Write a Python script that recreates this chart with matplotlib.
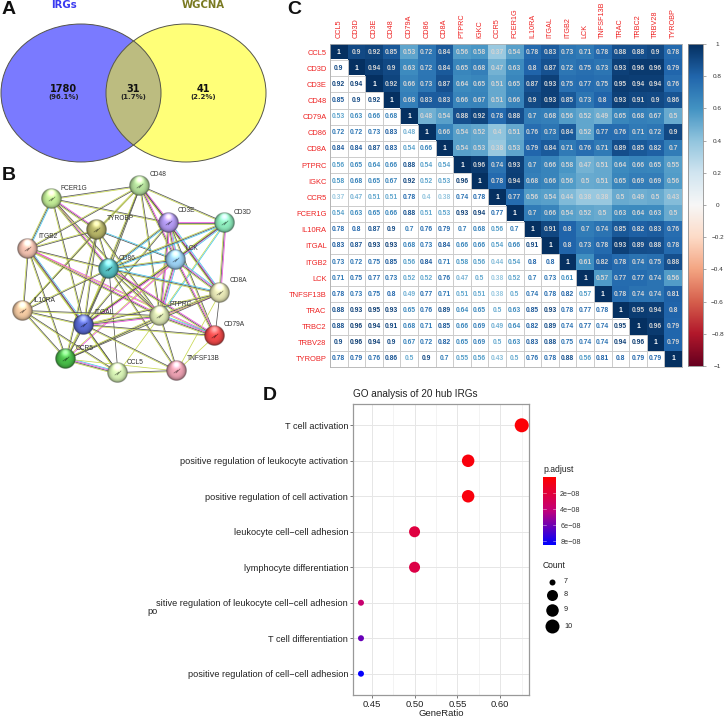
"""Four panel figure: Venn diagram, STRING network, correlation matrix, GO dot plot."""

from __future__ import annotations

import matplotlib

matplotlib.use("Agg")

import matplotlib.pyplot as plt
import numpy as np
from matplotlib.colors import LinearSegmentedColormap, Normalize, to_rgb
from matplotlib.patches import Ellipse, Rectangle

plt.rcParams["font.family"] = ["Liberation Sans", "DejaVu Sans"]

W, H = 725, 718

# panel A
VENN_COUNTS = [1780, 31, 41]
VENN_SHARES = ["(96.1%)", "(1.7%)", "(2.2%)"]
VENN_NAMES = ["IRGs", "WGCNA"]

# panel C
GENES = [
    "CCL5", "CD3D", "CD3E", "CD48", "CD79A", "CD86", "CD8A", "PTPRC", "IGKC", "CCR5",
    "FCER1G", "IL10RA", "ITGAL", "ITGB2", "LCK", "TNFSF13B", "TRAC", "TRBC2", "TRBV28", "TYROBP",
]
CORR = [
    [1, .9, .92, .85, .53, .72, .84, .56, .58, .37, .54, .78, .83, .73, .71, .78, .88, .88, .9, .78],
    [.9, 1, .94, .9, .63, .72, .84, .65, .68, .47, .63, .8, .87, .72, .75, .73, .93, .96, .96, .79],
    [.92, .94, 1, .92, .66, .73, .87, .64, .65, .51, .65, .87, .93, .75, .77, .75, .95, .94, .94, .76],
    [.85, .9, .92, 1, .68, .83, .83, .66, .67, .51, .66, .9, .93, .85, .73, .8, .93, .91, .9, .86],
    [.53, .63, .66, .68, 1, .48, .54, .88, .92, .78, .88, .7, .68, .56, .52, .49, .65, .68, .67, .5],
    [.72, .72, .73, .83, .48, 1, .66, .54, .52, .4, .51, .76, .73, .84, .52, .77, .76, .71, .72, .9],
    [.84, .84, .87, .83, .54, .66, 1, .54, .53, .38, .53, .79, .84, .71, .76, .71, .89, .85, .82, .7],
    [.56, .65, .64, .66, .88, .54, .54, 1, .96, .74, .93, .7, .66, .58, .47, .51, .64, .66, .65, .55],
    [.58, .68, .65, .67, .92, .52, .53, .96, 1, .78, .94, .68, .66, .56, .5, .51, .65, .69, .69, .56],
    [.37, .47, .51, .51, .78, .4, .38, .74, .78, 1, .77, .56, .54, .44, .38, .38, .5, .49, .5, .43],
    [.54, .63, .65, .66, .88, .51, .53, .93, .94, .77, 1, .7, .66, .54, .52, .5, .63, .64, .63, .5],
    [.78, .8, .87, .9, .7, .76, .79, .7, .68, .56, .7, 1, .91, .8, .7, .74, .85, .82, .83, .76],
    [.83, .87, .93, .93, .68, .73, .84, .66, .66, .54, .66, .91, 1, .8, .73, .78, .93, .89, .88, .78],
    [.73, .72, .75, .85, .56, .84, .71, .58, .56, .44, .54, .8, .8, 1, .61, .82, .78, .74, .75, .88],
    [.71, .75, .77, .73, .52, .52, .76, .47, .5, .38, .52, .7, .73, .61, 1, .57, .77, .77, .74, .56],
    [.78, .73, .75, .8, .49, .77, .71, .51, .51, .38, .5, .74, .78, .82, .57, 1, .78, .74, .74, .81],
    [.88, .93, .95, .93, .65, .76, .89, .64, .65, .5, .63, .85, .93, .78, .77, .78, 1, .95, .94, .8],
    [.88, .96, .94, .91, .68, .71, .85, .66, .69, .49, .64, .82, .89, .74, .77, .74, .95, 1, .96, .79],
    [.9, .96, .94, .9, .67, .72, .82, .65, .69, .5, .63, .83, .88, .75, .74, .74, .94, .96, 1, .79],
    [.78, .79, .76, .86, .5, .9, .7, .55, .56, .43, .5, .76, .78, .88, .56, .81, .8, .79, .79, 1],
]
CORR_TICKS = [1, 0.8, 0.6, 0.4, 0.2, 0, -0.2, -0.4, -0.6, -0.8, -1]

# panel D
GO_TERMS = [
    "T cell activation",
    "positive regulation of leukocyte activation",
    "positive regulation of cell activation",
    "leukocyte cell\u2212cell adhesion",
    "lymphocyte differentiation",
    "sitive regulation of leukocyte cell\u2212cell adhesion",
    "T cell differentiation",
    "positive regulation of cell\u2212cell adhesion",
]
GENE_RATIO = [0.625, 0.5625, 0.5625, 0.5, 0.5, 0.4375, 0.4375, 0.4375]
COUNTS = [10, 9, 9, 8, 8, 7, 7, 7]
P_ADJUST = [2e-9, 4e-9, 4e-9, 2.2e-8, 2.4e-8, 3.8e-8, 6.2e-8, 8.4e-8]
P_TICKS = [2e-8, 4e-8, 6e-8, 8e-8]
P_TICK_LABELS = ["2e\u221208", "4e\u221208", "6e\u221208", "8e\u221208"]
COUNT_LEVELS = [7, 8, 9, 10]

# panel B: y yellow-green, k dark, m magenta, c cyan
EDGES = [
    ("FCER1G", "CD48", "yk"), ("FCER1G", "CD3E", "yk"), ("FCER1G", "ITGB2", "ykc"),
    ("FCER1G", "TYROBP", "ykm"), ("FCER1G", "CD86", "ykm"), ("FCER1G", "PTPRC", "yk"),
    ("FCER1G", "ITGAL", "yk"), ("CD48", "TYROBP", "yk"), ("CD48", "ITGB2", "yk"),
    ("CD48", "CD86", "yk"), ("CD48", "CD3E", "ykm"), ("CD48", "CD3D", "yk"),
    ("CD48", "LCK", "ykm"), ("CD48", "ITGAL", "yk"), ("CD48", "PTPRC", "yk"),
    ("CD48", "IL10RA", "y"), ("CD48", "CD8A", "yk"), ("TYROBP", "ITGB2", "yk"),
    ("TYROBP", "CD86", "yk"), ("TYROBP", "LCK", "kc"), ("TYROBP", "ITGAL", "yk"),
    ("TYROBP", "CCR5", "yk"), ("TYROBP", "PTPRC", "yk"), ("TYROBP", "IL10RA", "yk"),
    ("CD3E", "CD3D", "ykm"), ("CD3E", "LCK", "ykmc"), ("CD3E", "CD86", "ykc"),
    ("CD3E", "CD8A", "ykmc"), ("CD3E", "ITGAL", "yk"), ("CD3E", "PTPRC", "ykm"),
    ("CD3E", "CD79A", "yk"), ("CD3D", "LCK", "ykmc"), ("CD3D", "CD86", "ykc"),
    ("CD3D", "CD8A", "ykm"), ("CD3D", "PTPRC", "yc"), ("CD3D", "ITGAL", "yk"),
    ("ITGB2", "CD86", "yk"), ("ITGB2", "IL10RA", "yk"), ("ITGB2", "ITGAL", "ykmc"),
    ("ITGB2", "PTPRC", "ykm"), ("ITGB2", "CD79A", "ym"), ("ITGB2", "CCR5", "yk"),
    ("ITGB2", "CCL5", "yk"), ("LCK", "CD86", "ykc"), ("LCK", "CD8A", "ykmc"),
    ("LCK", "PTPRC", "ykmc"), ("LCK", "ITGAL", "ykm"), ("LCK", "CD79A", "ykm"),
    ("LCK", "CCR5", "ym"), ("CD86", "CD8A", "ykc"), ("CD86", "PTPRC", "yk"),
    ("CD86", "ITGAL", "yk"), ("CD86", "IL10RA", "yk"), ("CD86", "CCR5", "yk"),
    ("CD86", "CCL5", "k"), ("CD86", "TNFSF13B", "yk"), ("CD86", "CD79A", "ykm"),
    ("CD8A", "PTPRC", "ykm"), ("CD8A", "CD79A", "k"), ("CD8A", "CCR5", "yk"),
    ("CD8A", "ITGAL", "yk"), ("CD8A", "TNFSF13B", "y"), ("IL10RA", "ITGAL", "yk"),
    ("IL10RA", "PTPRC", "yk"), ("IL10RA", "CCR5", "yk"), ("IL10RA", "CCL5", "yk"),
    ("PTPRC", "ITGAL", "ykm"), ("PTPRC", "CD79A", "ykmc"), ("PTPRC", "CCR5", "yk"),
    ("PTPRC", "TNFSF13B", "yk"), ("PTPRC", "CCL5", "y"), ("ITGAL", "CD79A", "yk"),
    ("ITGAL", "CCR5", "yk"), ("ITGAL", "CCL5", "yk"), ("ITGAL", "TNFSF13B", "yk"),
    ("CD79A", "TNFSF13B", "y"), ("CCR5", "CCL5", "ykmc"), ("CCR5", "TNFSF13B", "y"),
    ("CCL5", "TNFSF13B", "yk"),
]

# node layout in pixels: centre, colour, label corner
NODES = {
    "FCER1G": ((52, 199), "#b5dc8c", (61, 188)),
    "CD48": ((140, 186), "#a9d192", (150, 175)),
    "TYROBP": ((97, 230), "#aaa860", (107, 219)),
    "CD3E": ((169, 223), "#a58ee0", (178, 211)),
    "CD3D": ((225, 223), "#84dcb0", (234, 212)),
    "ITGB2": ((28, 249), "#e2b4a4", (38, 237)),
    "LCK": ((176, 260), "#92c4e4", (186, 248)),
    "CD86": ((109, 269), "#4eb2b4", (119, 258)),
    "CD8A": ((220, 293), "#d8d8aa", (230, 281)),
    "IL10RA": ((23, 311), "#e4bd98", (33, 300)),
    "PTPRC": ((160, 316), "#ced8a8", (170, 304)),
    "ITGAL": ((84, 325), "#5262c4", (94, 313)),
    "CD79A": ((215, 336), "#e04444", (224, 325)),
    "CCR5": ((66, 359), "#44b044", (76, 348)),
    "CCL5": ((118, 373), "#c8e2a8", (127, 362)),
    "TNFSF13B": ((177, 371), "#dc96a6", (187, 359)),
}
EDGE_COLORS = {"y": "#c8d850", "k": "#555555", "m": "#ec50dc", "c": "#48c8ec"}


def axes_px(fig, left, top, right, bottom, **kwargs):
    # axes from pixel edges, y measured from the top of the picture
    return fig.add_axes(
        [left / W, 1 - bottom / H, (right - left) / W, (bottom - top) / H], **kwargs
    )


def draw_venn(ax):
    left = Ellipse((81, 93), 160, 138, fc="#7a7aff", ec="none")
    right = Ellipse((186, 93), 160, 138, fc="#ffff78", ec="none")
    ax.add_patch(left)
    ax.add_patch(right)
    both = Ellipse((81, 93), 160, 138, fc="#bcbc80", ec="none")
    ax.add_patch(both)
    both.set_clip_path(Ellipse((186, 93), 160, 138, transform=ax.transData))
    for cx in (81, 186):
        ax.add_patch(Ellipse((cx, 93), 160, 138, fc="none", ec="#55554a", lw=0.7))
    for x, count, share in zip((64, 133, 203), VENN_COUNTS, VENN_SHARES):
        ax.text(x, 88.5, str(count), family="DejaVu Sans", weight="bold", fontsize=7,
                ha="center", va="center", color="#111111")
        ax.text(x, 96.5, share, family="DejaVu Sans", weight="bold", fontsize=5,
                ha="center", va="center", color="#222222")
    ax.text(64, 5, VENN_NAMES[0], family="DejaVu Sans", weight="bold", fontsize=7.3,
            ha="center", va="center", color="#3a3af0")
    ax.text(203, 5, VENN_NAMES[1], family="DejaVu Sans", weight="bold", fontsize=7.3,
            ha="center", va="center", color="#7a7a22")


def sphere(color, size=48):
    # shaded ball as an RGBA image, light comes from above
    base = np.array(to_rgb(color))
    yy, xx = np.mgrid[-1:1:size * 1j, -1:1:size * 1j]
    rr = np.hypot(xx, yy)
    shade = np.clip(1.08 - 0.55 * rr**4, 0, 1.2)[..., None]
    glow = np.exp(-((xx**2 + (yy + 0.62) ** 2) / 0.16))[..., None] * 0.45
    rim = np.clip((rr - 0.86) / 0.14, 0, 1)[..., None] * 0.35
    rgb = np.clip(base * shade * (1 - rim) + glow, 0, 1)
    alpha = np.clip((1 - rr) * size / 2, 0, 1)[..., None]
    return np.concatenate([rgb, alpha], axis=2)


def draw_network(ax):
    for a, b, kinds in EDGES:
        p, q = np.array(NODES[a][0], float), np.array(NODES[b][0], float)
        normal = np.array([q[1] - p[1], p[0] - q[0]]) / np.linalg.norm(q - p)
        for i, kind in enumerate(kinds):
            shift = normal * (i - (len(kinds) - 1) / 2) * 1.0
            ax.plot([p[0] + shift[0], q[0] + shift[0]], [p[1] + shift[1], q[1] + shift[1]],
                    color=EDGE_COLORS[kind], lw=0.55, solid_capstyle="butt", zorder=2)
    for name, (centre, color, corner) in NODES.items():
        r = 10.5
        ax.imshow(sphere(color), extent=(centre[0] - r, centre[0] + r, centre[1] + r, centre[1] - r),
                  zorder=3, interpolation="bilinear", aspect="auto")
        # small squiggle inside each ball, darker than the ball itself
        dark = tuple(c * 0.6 for c in to_rgb(color))
        ax.plot([centre[0] - 3, centre[0] + 1, centre[0] - 1, centre[0] + 3],
                [centre[1] + 2, centre[1] - 1, centre[1] + 2, centre[1] - 2],
                color=dark, lw=0.5, zorder=3.5)
        ax.text(corner[0], corner[1], name, fontsize=4.8, color="#333333", ha="left",
                va="center", zorder=4)


def draw_corr(fig):
    corr = np.array(CORR, float)
    n = len(GENES)
    norm = Normalize(-1, 1)
    cmap = plt.get_cmap("RdBu")
    ax = axes_px(fig, 330, 44, 682, 367)
    upper = np.ma.masked_where(np.tril(np.ones((n, n), bool), -1), corr)
    ax.imshow(upper, cmap=cmap, norm=norm, aspect="auto", interpolation="nearest")
    for i in range(n):
        for j in range(n):
            if j < i:
                ax.add_patch(Rectangle((j - 0.5, i - 0.5), 1, 1, fc="white", ec="#c8c8c8", lw=0.6))
                color = cmap(norm(corr[i, j]))
            elif i == j:
                color = "white"
            else:
                color = "#d4d4d4"
            ax.text(j, i, f"{corr[i, j]:g}", ha="center", va="center",
                    fontsize=4.9, weight="bold", color=color)
    ax.set_xticks(range(n), GENES, rotation=90, fontsize=5.2, color="#ee2222")
    ax.set_yticks(range(n), GENES, fontsize=5.4, color="#ee2222")
    ax.xaxis.tick_top()
    ax.tick_params(axis="x", length=0, pad=4)
    ax.tick_params(axis="y", length=0, pad=2.5)
    for spine in ax.spines.values():
        spine.set_color("#b0b0b0")
        spine.set_linewidth(0.6)

    cax = axes_px(fig, 688, 44, 703, 366)
    gradient = np.linspace(1, -1, 256)[:, None]
    cax.imshow(gradient, cmap=cmap, norm=norm, aspect="auto", extent=(0, 1, -1, 1))
    cax.set_xticks([])
    cax.yaxis.tick_right()
    cax.set_yticks(CORR_TICKS, [str(t).replace("-", "\u2212") for t in CORR_TICKS], fontsize=4.6,
                   color="#333333", ha="center")
    cax.tick_params(length=2, width=0.5, color="#888888", pad=8.5)
    for spine in cax.spines.values():
        spine.set_color("#909090")
        spine.set_linewidth(0.6)


def draw_dots(fig, page):
    ax = axes_px(fig, 353, 404, 529, 695)
    cmap = LinearSegmentedColormap.from_list("padj", ["#ff0000", "#c1007c", "#0000ff"])
    pnorm = Normalize(0, 8.5e-8)
    diameter = {7: 6.0, 8: 11.0, 9: 12.5, 10: 14.0}
    ypos = np.arange(len(GO_TERMS))[::-1] + 1
    sizes = [(diameter[c] * 0.72) ** 2 for c in COUNTS]
    ax.scatter(GENE_RATIO, ypos, s=sizes, c=P_ADJUST, cmap=cmap, norm=pnorm, linewidths=0, zorder=3)
    ax.set_xlim(0.4282, 0.6335)
    ax.set_ylim(0.4, 8.6)
    ax.set_xticks([0.45, 0.50, 0.55, 0.60], ["0.45", "0.50", "0.55", "0.60"], fontsize=6.8, color="#222222")
    ax.set_xticks([0.475, 0.525, 0.575, 0.625], minor=True)
    ax.set_yticks(ypos, GO_TERMS, fontsize=6.6, color="#222222")
    ax.grid(True, which="major", color="#e6e6e6", lw=0.7)
    ax.grid(True, which="minor", axis="x", color="#efefef", lw=0.5)
    ax.set_axisbelow(True)
    ax.tick_params(which="minor", length=0)
    ax.tick_params(which="major", length=2, width=0.5, color="#444444", pad=1.5)
    for spine in ax.spines.values():
        spine.set_color("#999999")
        spine.set_linewidth(0.9)
    page.text(441, 713, "GeneRatio", fontsize=6.8, ha="center", va="center", color="#222222")
    page.text(353, 394, "GO analysis of 20 hub IRGs", fontsize=7.2, ha="left", va="center", color="#222222")
    page.text(147, 612, "po", fontsize=6.6, ha="left", va="center", color="#222222")

    cax = axes_px(fig, 543, 477, 556, 545)
    grad = np.linspace(0, 8.5e-8, 128)[:, None]
    cax.imshow(grad, cmap=cmap, norm=pnorm, aspect="auto", extent=(0, 1, 8.5e-8, 0))
    cax.set_xticks([])
    cax.yaxis.tick_right()
    cax.set_yticks(P_TICKS, P_TICK_LABELS, fontsize=5.2, color="#333333")
    cax.tick_params(length=0, pad=3)
    for tick in P_TICKS:
        cax.plot([0, 0.2], [tick, tick], color="white", lw=0.4, alpha=0.7)
        cax.plot([0.8, 1], [tick, tick], color="white", lw=0.4, alpha=0.7)
    cax.set_xlim(0, 1)
    for spine in cax.spines.values():
        spine.set_visible(False)
    page.text(543, 469, "p.adjust", fontsize=6.2, ha="left", va="center", color="#222222")

    page.text(543, 566, "Count", fontsize=6.2, ha="left", va="center", color="#222222")
    for level, y in zip(COUNT_LEVELS, (581.7, 595, 609.7, 626)):
        page.scatter([551.7], [y], s=(diameter[level] * 0.72) ** 2, color="black", linewidths=0)
        page.text(564, y, str(level), fontsize=5.2, ha="left", va="center", color="#222222")


def main() -> None:
    fig = plt.figure(figsize=(W / 100, H / 100), dpi=100, facecolor="white")
    page = fig.add_axes([0, 0, 1, 1])
    page.axis("off")

    draw_venn(page)
    draw_network(page)
    page.set_xlim(0, W)
    page.set_ylim(H, 0)
    page.set_aspect("auto")

    for letter, x, y in (("A", 2, 10), ("B", 2, 175), ("C", 287, 10), ("D", 263, 396)):
        page.text(x, y, letter, fontsize=14, weight="bold", ha="left", va="center", color="#111111")

    draw_corr(fig)
    draw_dots(fig, page)
    page.set_xlim(0, W)
    page.set_ylim(H, 0)

    fig.savefig("out.png", dpi=100)
    plt.close(fig)


if __name__ == "__main__":
    main()
